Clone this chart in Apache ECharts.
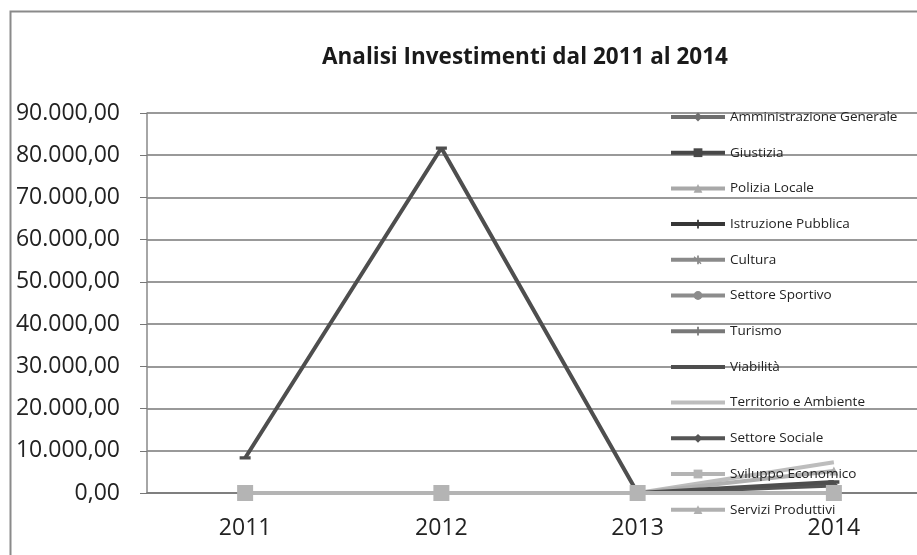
<!DOCTYPE html>
<html><head><meta charset="utf-8">
<script src="https://cdn.jsdelivr.net/npm/echarts@6/dist/echarts.min.js"></script>
<style>html,body{margin:0;padding:0;background:#fff;overflow:hidden}#c{width:940px;height:555px}</style>
</head><body><div id="c"></div>
<script>
var years = ['2011', '2012', '2013', '2014'];
var seriesNames = ['Amministrazione Generale', 'Giustizia', 'Polizia Locale', 'Istruzione Pubblica', 'Cultura', 'Settore Sportivo', 'Turismo', 'Viabilità', 'Territorio e Ambiente', 'Settore Sociale', 'Sviluppo Economico', 'Servizi Produttivi'];
var amministrazione = [0, 0, 0, 0];
var giustizia = [0, 0, 0, 0];
var polizia = [0, 0, 0, 0];
var istruzione = [0, 0, 0, 0];
var cultura = [0, 0, 0, 0];
var sportivo = [0, 0, 0, 0];
var turismo = [0, 0, 0, 0];
var viabilita = [8300, 81700, 0, 2600];
var territorio = [0, 0, 0, 7300];
var sociale = [0, 0, 0, 1800];
var sviluppo = [0, 0, 0, 0];
var servizi = [0, 0, 0, 5200];
var yTicks = [0, 10000, 20000, 30000, 40000, 50000, 60000, 70000, 80000, 90000];

var values = [amministrazione, giustizia, polizia, istruzione, cultura, sportivo, turismo, viabilita, territorio, sociale, sviluppo, servizi];
var plusPath = 'path://M4,0H6V4H10V6H6V10H4V6H0V4H4Z';
var starPath = 'path://M4,0H6V10H4Z M0,4H10V6H0Z M1,1L9,9L8,10L0,2Z';
var dashPath = 'path://M0,0L0.01,0 M0,3.5H10V6.5H0Z M9.99,10L10,10';
var styles = [
  {c:'#6e6e6e', sym:'diamond', s:9},
  {c:'#474747', sym:'rect', s:9},
  {c:'#a8a8a8', sym:'triangle', s:9},
  {c:'#363636', sym:plusPath, s:9},
  {c:'#8a8a8a', sym:starPath, s:9},
  {c:'#8c8c8c', sym:'circle', s:9},
  {c:'#787878', sym:plusPath, s:8},
  {c:'#4e4e4e', sym:dashPath, s:11},
  {c:'#bdbdbd', sym:dashPath, s:11, hide:true},
  {c:'#555555', sym:'diamond', s:9},
  {c:'#b4b4b4', sym:'rect', s:16},
  {c:'#b0b0b0', sym:'triangle', s:9}
];

function fmt(v){
  var s = String(Math.round(v));
  s = s.replace(/\B(?=(\d{3})+(?!\d))/g, '.');
  return s + ',00';
}

var series = seriesNames.map(function(n, i){
  var st = styles[i];
  return {
    name: n, type: 'line', data: values[i],
    symbol: st.sym, symbolSize: st.s, showSymbol: !st.hide,
    z: i === 10 ? 5 : (i === 7 ? 4 : 3),
    lineStyle: {color: st.c, width: 4},
    itemStyle: {color: st.c},
    animation: false
  };
});

var chart = echarts.init(document.getElementById('c'));
chart.setOption({
  backgroundColor: '#fff',
  animation: false,
  title: {
    text: 'Analisi Investimenti dal 2011 al 2014',
    left: 520, top: 41, textAlign: 'center',
    textStyle: {fontFamily: 'Open Sans', fontSize: 22.5, fontWeight: 'bold', color: '#1a1a1a'}
  },
  graphic: [{
    type: 'rect', left: 8, top: 9, z: -1,
    shape: {width: 960, height: 580},
    style: {fill: 'none', stroke: '#8a8a8a', lineWidth: 2}
  }],
  legend: {
    orient: 'vertical', left: 669, top: 110, padding: 0,
    itemWidth: 54, itemHeight: 11, itemGap: 21.7,
    lineStyle: {width: 4},
    data: seriesNames,
    textStyle: {fontFamily: 'Open Sans', fontSize: 13.5, color: '#222', lineHeight: 14}
  },
  grid: {left: 147, top: 113, right: 8, bottom: 62},
  xAxis: {
    type: 'category', data: years, boundaryGap: true,
    axisLine: {lineStyle: {color: '#777', width: 1.5}},
    axisTick: {length: 6, lineStyle: {color: '#777'}},
    axisLabel: {margin: 24, fontFamily: 'Open Sans', fontSize: 23, color: '#222'}
  },
  yAxis: {
    type: 'value', min: 0, max: 90000, interval: 10000,
    axisLine: {show: true, lineStyle: {color: '#888', width: 1.5}},
    axisTick: {show: true, length: 7, lineStyle: {color: '#777'}},
    splitLine: {lineStyle: {color: '#777', width: 1.5}},
    axisLabel: {margin: 27, fontFamily: 'Open Sans', fontSize: 23, color: '#222', formatter: fmt}
  },
  series: series
});
</script></body></html>
